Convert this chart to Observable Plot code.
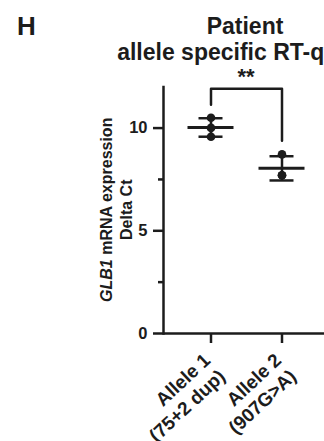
<!DOCTYPE html>
<html><head><meta charset="utf-8">
<script src="https://cdn.jsdelivr.net/npm/d3@7"></script>
<script src="https://cdn.jsdelivr.net/npm/@observablehq/plot@0.6"></script>
<style>
html,body{margin:0;padding:0;background:#fff;overflow:hidden;}
#wrap{position:relative;width:324px;height:441px;font-family:"Liberation Sans",Arial,sans-serif;font-weight:bold;color:#1c1c1c;}
#header{position:relative;height:78px;}
.t{position:absolute;white-space:nowrap;line-height:1;}
.c{transform:translateX(-50%);}
</style></head><body>
<div id="wrap">
  <div id="header">
    <div class="t" style="left:17px;top:13px;font-size:26px">H</div>
    <div class="t c" style="left:245px;top:14.5px;font-size:23px">Patient</div>
    <div class="t c" style="left:245px;top:41px;font-size:23px">allele specific RT-qPCR</div>
    <div class="t c" style="left:246px;top:66px;font-size:22px">**</div>
  </div>
  <div id="chart"></div>
</div>
<script>
const categories = ["Allele 1", "Allele 2"];
const tickLabels = ["Allele 1\n(75+2 dup)", "Allele 2\n(907G>A)"];
const allele1Values = [10.5, 10.01, 9.58];
const allele2Values = [8.72, 7.70, 7.70];
const means = [10.03, 8.04];
const sds = [0.45, 0.59];
const yTicks = [0, 5, 10];
const yMinorTicks = [2.5, 7.5];
const bracketLegBottoms = [11.13, 9.38];
const bracketTop = 11.91;

const points = [
  ...allele1Values.map(v => ({cat: categories[0], v})),
  ...allele2Values.map(v => ({cat: categories[1], v}))
];
const summary = categories.map((c, i) => ({cat: c, mean: means[i], sd: sds[i]}));
const bracketPath = [
  {cat: categories[0], v: bracketLegBottoms[0]},
  {cat: categories[0], v: bracketTop},
  {cat: categories[1], v: bracketTop},
  {cat: categories[1], v: bracketLegBottoms[1]}
];

const ink = "#1c1c1c";
const plot = Plot.plot({
  width: 324,
  height: 363,
  marginLeft: 163,
  marginRight: 0,
  marginTop: 8.5,
  marginBottom: 108,
  style: {fontFamily: '"Liberation Sans", Arial, sans-serif', fontWeight: "bold", color: ink, background: "transparent", overflow: "visible"},
  x: {type: "band", domain: categories, range: [174.5, 316.5], padding: 0, axis: null},
  y: {domain: [0, 12], axis: null},
  marks: [
    Plot.axisY({ticks: yTicks, tickSize: 10, tickPadding: 6, fontSize: 16.5, strokeWidth: 2.5, label: null}),
    Plot.axisY({ticks: yMinorTicks, tickSize: 5, tickFormat: () => "", strokeWidth: 2.5, label: null}),
    Plot.frame({anchor: "left", strokeWidth: 2.5}),
    Plot.ruleY([0], {strokeWidth: 2.5}),
    Plot.axisX({tickSize: 10, tickFormat: () => "", strokeWidth: 2.5, label: null}),
    Plot.text(categories, {x: d => d, frameAnchor: "bottom", text: (d, i) => tickLabels[i], rotate: -43, textAnchor: "end", lineAnchor: "top", lineHeight: 1.15, dx: -10, dy: 17, fontSize: 19}),
    Plot.ruleX(summary, {x: "cat", y1: d => d.mean - d.sd, y2: d => d.mean + d.sd, strokeWidth: 2.5}),
    Plot.tickY(summary, {x: "cat", y: d => d.mean + d.sd, insetLeft: 23.5, insetRight: 23.5, strokeWidth: 2.5}),
    Plot.tickY(summary, {x: "cat", y: d => d.mean - d.sd, insetLeft: 23.5, insetRight: 23.5, strokeWidth: 2.5}),
    Plot.tickY(summary, {x: "cat", y: "mean", insetLeft: 12.5, insetRight: 12.5, strokeWidth: 3}),
    Plot.dot(points, {x: "cat", y: "v", r: 4.3, fill: ink}),
    Plot.line(bracketPath, {x: "cat", y: "v", strokeWidth: 2.5})
  ]
});

const svg = d3.select(plot);
const yr = plot.scale("y").range;
const cy = (yr[0] + yr[1]) / 2;
const lab1 = svg.append("text")
  .attr("transform", `translate(111.5,${cy}) rotate(-90)`)
  .attr("text-anchor", "middle").attr("fill", "currentColor")
  .style("font-size", "16px").style("font-weight", "bold");
lab1.append("tspan").style("font-style", "italic").text("GLB1");
lab1.append("tspan").text(" mRNA expression");
svg.append("text")
  .attr("transform", `translate(132,${cy}) rotate(-90)`)
  .attr("text-anchor", "middle").attr("fill", "currentColor")
  .style("font-size", "16px").style("font-weight", "bold")
  .text("Delta Ct");

document.getElementById("chart").appendChild(plot);
</script>
</body></html>
